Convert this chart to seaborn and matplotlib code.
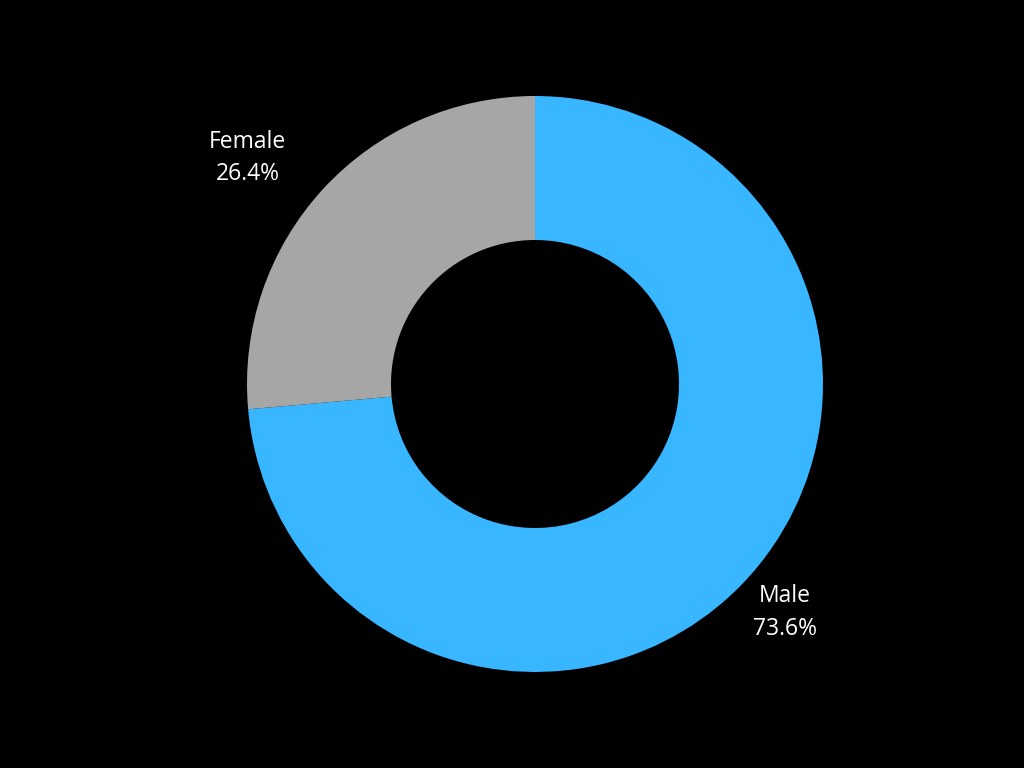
import numpy as np
import matplotlib.pyplot as plt
import seaborn as sns

# data
labels = ['Male', 'Female']
shares = [73.6, 26.4]
colors = ['#38B6FF', '#A6A6A6']

sns.set_theme(style='white')
plt.rcParams['font.family'] = ['Open Sans', 'DejaVu Sans']

fig = plt.figure(figsize=(10.24, 7.68), dpi=100, facecolor='black')
ax = fig.add_axes([0, 0, 1, 1])
ax.set_facecolor('black')

wedges, _ = ax.pie(shares, colors=colors, startangle=90, counterclock=False,
                   wedgeprops=dict(width=0.5, edgecolor='none'), radius=1)

# labels placed outside each wedge
label_dist = {'Male': 1.175, 'Female': 1.27}
label_shift = {'Male': 0.0, 'Female': 4.3}
for w, lab, val in zip(wedges, labels, shares):
    ang = np.deg2rad((w.theta1 + w.theta2) / 2 + label_shift[lab])
    d = label_dist[lab]
    ax.text(d * np.cos(ang), d * np.sin(ang), f'{lab}\n{val}%', color='white',
            ha='center', va='center', fontsize=16.5, linespacing=1.45)

# px scale: radius 1 = 288 px, center at (535, 384)
ax.set_xlim(-535 / 288, 489 / 288)
ax.set_ylim(-384 / 288, 384 / 288)
ax.set_aspect('equal')
ax.axis('off')

fig.savefig('out.png', dpi=100, facecolor='black')
